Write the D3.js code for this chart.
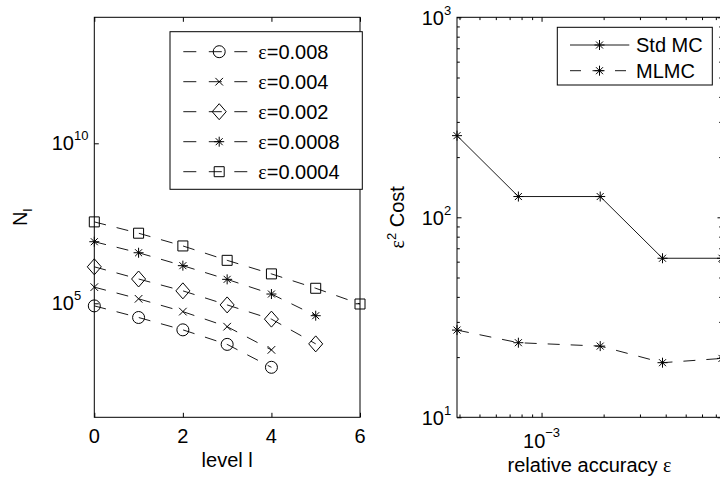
<!DOCTYPE html>
<html>
<head>
<meta charset="utf-8">
<script src="https://cdn.jsdelivr.net/npm/d3@7"></script>
<style>
  body { margin: 0; background: #fff; }
  text { font-family: "Liberation Sans", Arial, sans-serif; fill: #000; }
  .greek { font-family: "Liberation Serif", "Times New Roman", serif; }
</style>
</head>
<body>
<div id="wrapper"></div>
<script>
// Data: left panel, samples N_l per level for each accuracy
const levels = [0, 1, 2, 3, 4, 5, 6];
const epsLabels = ["0.008", "0.004", "0.002", "0.0008", "0.0004"];
const nEps008 = [8.3e4, 3.6e4, 1.48e4, 5.2e3, 1.0e3];
const nEps004 = [3.2e5, 1.38e5, 5.5e4, 1.86e4, 3.5e3];
const nEps002 = [1.38e6, 5.75e5, 2.45e5, 8.9e4, 3.2e4, 5.4e3];
const nEps0008 = [8.4e6, 3.8e6, 1.5e6, 5.6e5, 1.95e5, 4.1e4];
const nEps0004 = [3.5e7, 1.55e7, 6.2e6, 2.2e6, 8.3e5, 2.95e5, 9.5e4];

// Data: right panel, eps^2 cost against accuracy
const accuracy = [0.000389, 0.000772, 0.001925, 0.00386, 0.0075];
const costStdMC = [256, 127, 127, 62.4, 62.4];
const costMLMC = [27.3, 23.6, 22.7, 18.75, 19.7];
const costLegend = ["Std MC", "MLMC"];

// Tick labels
const levelTicks = [0, 2, 4, 6];
const nTickPowers = [5, 10];
const costTickPowers = [1, 2, 3];
const accuracyTickPowers = [-3];

function drawChart() {
  const nSeries = [nEps008, nEps004, nEps002, nEps0008, nEps0004];
  const markerShapes = ["circle", "cross", "diamond", "star", "square"];
  const dash = "12,11";

  const dimensions = {
    width: 720,
    height: 485,
    top: 17.3,
    bottom: 417.3,
    left: { x0: 94.3, x1: 360 },
    right: { x0: 457, x1: 722 },
  };

  const svg = d3
    .select("#wrapper")
    .append("svg")
    .attr("width", dimensions.width)
    .attr("height", dimensions.height);

  function markerPath(type) {
    switch (type) {
      case "circle":
        return "M6,0A6,6 0 1,1 -6,0A6,6 0 1,1 6,0Z";
      case "cross":
        return "M-3.8,-3.8L3.8,3.8M-3.8,3.8L3.8,-3.8";
      case "diamond":
        return "M0,-8L7,0L0,8L-7,0Z";
      case "star":
        return "M-5,0H5M0,-5V5M-3.5,-3.5L3.5,3.5M-3.5,3.5L3.5,-3.5";
      default:
        return "M-5,-5H5V5H-5Z";
    }
  }

  function addMarker(g, type, x, y) {
    g.append("path")
      .attr("d", markerPath(type))
      .attr("transform", `translate(${x},${y})`)
      .attr("fill", "none")
      .attr("stroke", "#000")
      .attr("stroke-width", 1);
  }

  function tickAxis(g, axis, transform) {
    g.append("g")
      .attr("transform", transform)
      .call(axis)
      .call((a) => a.select(".domain").remove())
      .call((a) => a.selectAll(".tick line").attr("stroke", "#000"));
  }

  // ---------- Left panel ----------
  const xLevel = d3
    .scaleLinear()
    .domain([0, 6])
    .range([dimensions.left.x0, dimensions.left.x1]);

  const yN = d3
    .scaleLog()
    .domain([10 ** 1.4375, 10 ** 13.9375])
    .range([dimensions.bottom, dimensions.top]);

  const left = svg.append("g");

  const levelLine = d3
    .line()
    .x((d, i) => xLevel(levels[i]))
    .y((d) => yN(d));

  nSeries.forEach((values, s) => {
    left
      .append("path")
      .attr("d", levelLine(values))
      .attr("fill", "none")
      .attr("stroke", "#000")
      .attr("stroke-width", 0.9)
      .attr("stroke-dasharray", dash);
    values.forEach((v, i) => {
      addMarker(left, markerShapes[s], xLevel(levels[i]), yN(v));
    });
  });

  left
    .append("rect")
    .attr("x", dimensions.left.x0)
    .attr("y", dimensions.top)
    .attr("width", dimensions.left.x1 - dimensions.left.x0)
    .attr("height", dimensions.bottom - dimensions.top)
    .attr("fill", "none")
    .attr("stroke", "#000");

  tickAxis(
    left,
    d3.axisBottom(xLevel).tickValues(levelTicks).tickSize(-4.5).tickFormat(""),
    `translate(0,${dimensions.bottom})`
  );
  tickAxis(
    left,
    d3.axisTop(xLevel).tickValues(levelTicks).tickSize(-4.5).tickFormat(""),
    `translate(0,${dimensions.top})`
  );
  tickAxis(
    left,
    d3.axisLeft(yN).tickValues(nTickPowers.map((p) => 10 ** p)).tickSize(-4.5).tickFormat(""),
    `translate(${dimensions.left.x0},0)`
  );
  tickAxis(
    left,
    d3.axisRight(yN).tickValues(nTickPowers.map((p) => 10 ** p)).tickSize(-4.5).tickFormat(""),
    `translate(${dimensions.left.x1},0)`
  );

  left
    .selectAll(".xlab")
    .data(levelTicks)
    .enter()
    .append("text")
    .attr("x", (d) => xLevel(d))
    .attr("y", dimensions.bottom + 26)
    .attr("text-anchor", "middle")
    .style("font-size", "20px")
    .text((d) => d);

  const nLabels = left
    .selectAll(".ylab")
    .data(nTickPowers)
    .enter()
    .append("text")
    .attr("x", dimensions.left.x0 - 42.6)
    .attr("y", (d) => yN(10 ** d) + 7)
    .style("font-size", "20px");
  nLabels.append("tspan").text("10");
  nLabels
    .append("tspan")
    .attr("dy", -10)
    .style("font-size", "13px")
    .text((d) => d);

  left
    .append("text")
    .attr("x", (dimensions.left.x0 + dimensions.left.x1) / 2)
    .attr("y", 466.7)
    .attr("text-anchor", "middle")
    .style("font-size", "20px")
    .text("level l");

  const nTitle = left
    .append("text")
    .attr("transform", `translate(27,${(dimensions.top + dimensions.bottom) / 2}) rotate(-90)`)
    .attr("text-anchor", "middle")
    .style("font-size", "20px");
  nTitle.append("tspan").text("N");
  nTitle.append("tspan").attr("dy", 5).style("font-size", "13px").text("l");

  // legend
  const legendL = left.append("g");
  legendL
    .append("rect")
    .attr("x", 170)
    .attr("y", 31.7)
    .attr("width", 192.3)
    .attr("height", 157.6)
    .attr("fill", "#fff")
    .attr("stroke", "#000");

  epsLabels.forEach((label, i) => {
    const y = 51.7 + i * 30;
    legendL
      .append("line")
      .attr("x1", 183.3)
      .attr("x2", 247.5)
      .attr("y1", y)
      .attr("y2", y)
      .attr("stroke", "#000")
      .attr("stroke-width", 0.9)
      .attr("stroke-dasharray", "13,12.5");
    addMarker(legendL, markerShapes[i], 219.2, y);
    const t = legendL
      .append("text")
      .attr("x", 258.3)
      .attr("y", y + 7.2)
      .style("font-size", "20px");
    t.append("tspan").attr("class", "greek").text("ε");
    t.append("tspan").text("=" + label);
  });

  // ---------- Right panel ----------
  const xAcc = d3
    .scaleLog()
    .domain([accuracy[0], accuracy[accuracy.length - 1]])
    .range([dimensions.right.x0, dimensions.right.x1]);

  const yCost = d3
    .scaleLog()
    .domain([10, 1000])
    .range([dimensions.bottom, dimensions.top]);

  const right = svg.append("g");

  const costLine = d3
    .line()
    .x((d, i) => xAcc(accuracy[i]))
    .y((d) => yCost(d));

  [costStdMC, costMLMC].forEach((values, s) => {
    right
      .append("path")
      .attr("d", costLine(values))
      .attr("fill", "none")
      .attr("stroke", "#000")
      .attr("stroke-width", 0.9)
      .attr("stroke-dasharray", s === 1 ? dash : null);
    values.forEach((v, i) => addMarker(right, "star", xAcc(accuracy[i]), yCost(v)));
  });

  right
    .append("rect")
    .attr("x", dimensions.right.x0)
    .attr("y", dimensions.top)
    .attr("width", dimensions.right.x1 - dimensions.right.x0)
    .attr("height", dimensions.bottom - dimensions.top)
    .attr("fill", "none")
    .attr("stroke", "#000");

  const accMajor = accuracyTickPowers.map((p) => 10 ** p);
  const accMinor = xAcc.ticks().filter((t) => !accMajor.some((m) => Math.abs(m - t) < 1e-9));
  const costMajor = costTickPowers.map((p) => 10 ** p);
  const costMinor = yCost.ticks().filter((t) => !costMajor.includes(t));

  [
    [accMajor, 4.5],
    [accMinor, 2.8],
  ].forEach(([vals, size]) => {
    tickAxis(right, d3.axisBottom(xAcc).tickValues(vals).tickSize(-size).tickFormat(""), `translate(0,${dimensions.bottom})`);
    tickAxis(right, d3.axisTop(xAcc).tickValues(vals).tickSize(-size).tickFormat(""), `translate(0,${dimensions.top})`);
  });
  [
    [costMajor, 4.5],
    [costMinor, 2.8],
  ].forEach(([vals, size]) => {
    tickAxis(right, d3.axisLeft(yCost).tickValues(vals).tickSize(-size).tickFormat(""), `translate(${dimensions.right.x0},0)`);
    tickAxis(right, d3.axisRight(yCost).tickValues(vals).tickSize(-size).tickFormat(""), `translate(${dimensions.right.x1},0)`);
  });

  const costLabels = right
    .selectAll(".ylab")
    .data(costTickPowers)
    .enter()
    .append("text")
    .attr("x", dimensions.right.x0 - 35.3)
    .attr("y", (d) => yCost(10 ** d) + 7.5)
    .style("font-size", "20px");
  costLabels.append("tspan").text("10");
  costLabels
    .append("tspan")
    .attr("dy", -10)
    .style("font-size", "13px")
    .text((d) => d);

  const accLabels = right
    .selectAll(".xlab")
    .data(accuracyTickPowers)
    .enter()
    .append("text")
    .attr("x", (d) => xAcc(10 ** d))
    .attr("y", 448)
    .attr("text-anchor", "middle")
    .style("font-size", "20px");
  accLabels.append("tspan").text("10");
  accLabels
    .append("tspan")
    .attr("dy", -11)
    .style("font-size", "13px")
    .text((d) => "\u2212" + Math.abs(d));

  const accTitle = right
    .append("text")
    .attr("x", (dimensions.right.x0 + dimensions.right.x1) / 2)
    .attr("y", 472)
    .attr("text-anchor", "middle")
    .style("font-size", "20px");
  accTitle.append("tspan").text("relative accuracy ");
  accTitle.append("tspan").attr("class", "greek").text("ε");

  const costTitle = right
    .append("text")
    .attr("transform", `translate(404,${(dimensions.top + dimensions.bottom) / 2}) rotate(-90)`)
    .attr("text-anchor", "middle")
    .style("font-size", "20px");
  costTitle.append("tspan").attr("class", "greek").text("ε");
  costTitle.append("tspan").attr("dy", -8).style("font-size", "13px").text("2");
  costTitle.append("tspan").attr("dy", 8).text(" Cost");

  // legend
  const legendR = right.append("g");
  legendR
    .append("rect")
    .attr("x", 557.3)
    .attr("y", 27.3)
    .attr("width", 155)
    .attr("height", 57.7)
    .attr("fill", "#fff")
    .attr("stroke", "#000");

  costLegend.forEach((label, i) => {
    const y = 45 + i * 25.7;
    legendR
      .append("line")
      .attr("x1", 570)
      .attr("x2", 629.3)
      .attr("y1", y)
      .attr("y2", y)
      .attr("stroke", "#000")
      .attr("stroke-width", 0.9)
      .attr("stroke-dasharray", i === 1 ? "11,11.5" : null);
    addMarker(legendR, "star", 599.5, y);
    legendR
      .append("text")
      .attr("x", 636)
      .attr("y", y + 7.2)
      .style("font-size", "20px")
      .text(label);
  });
}

drawChart();
</script>
</body>
</html>
